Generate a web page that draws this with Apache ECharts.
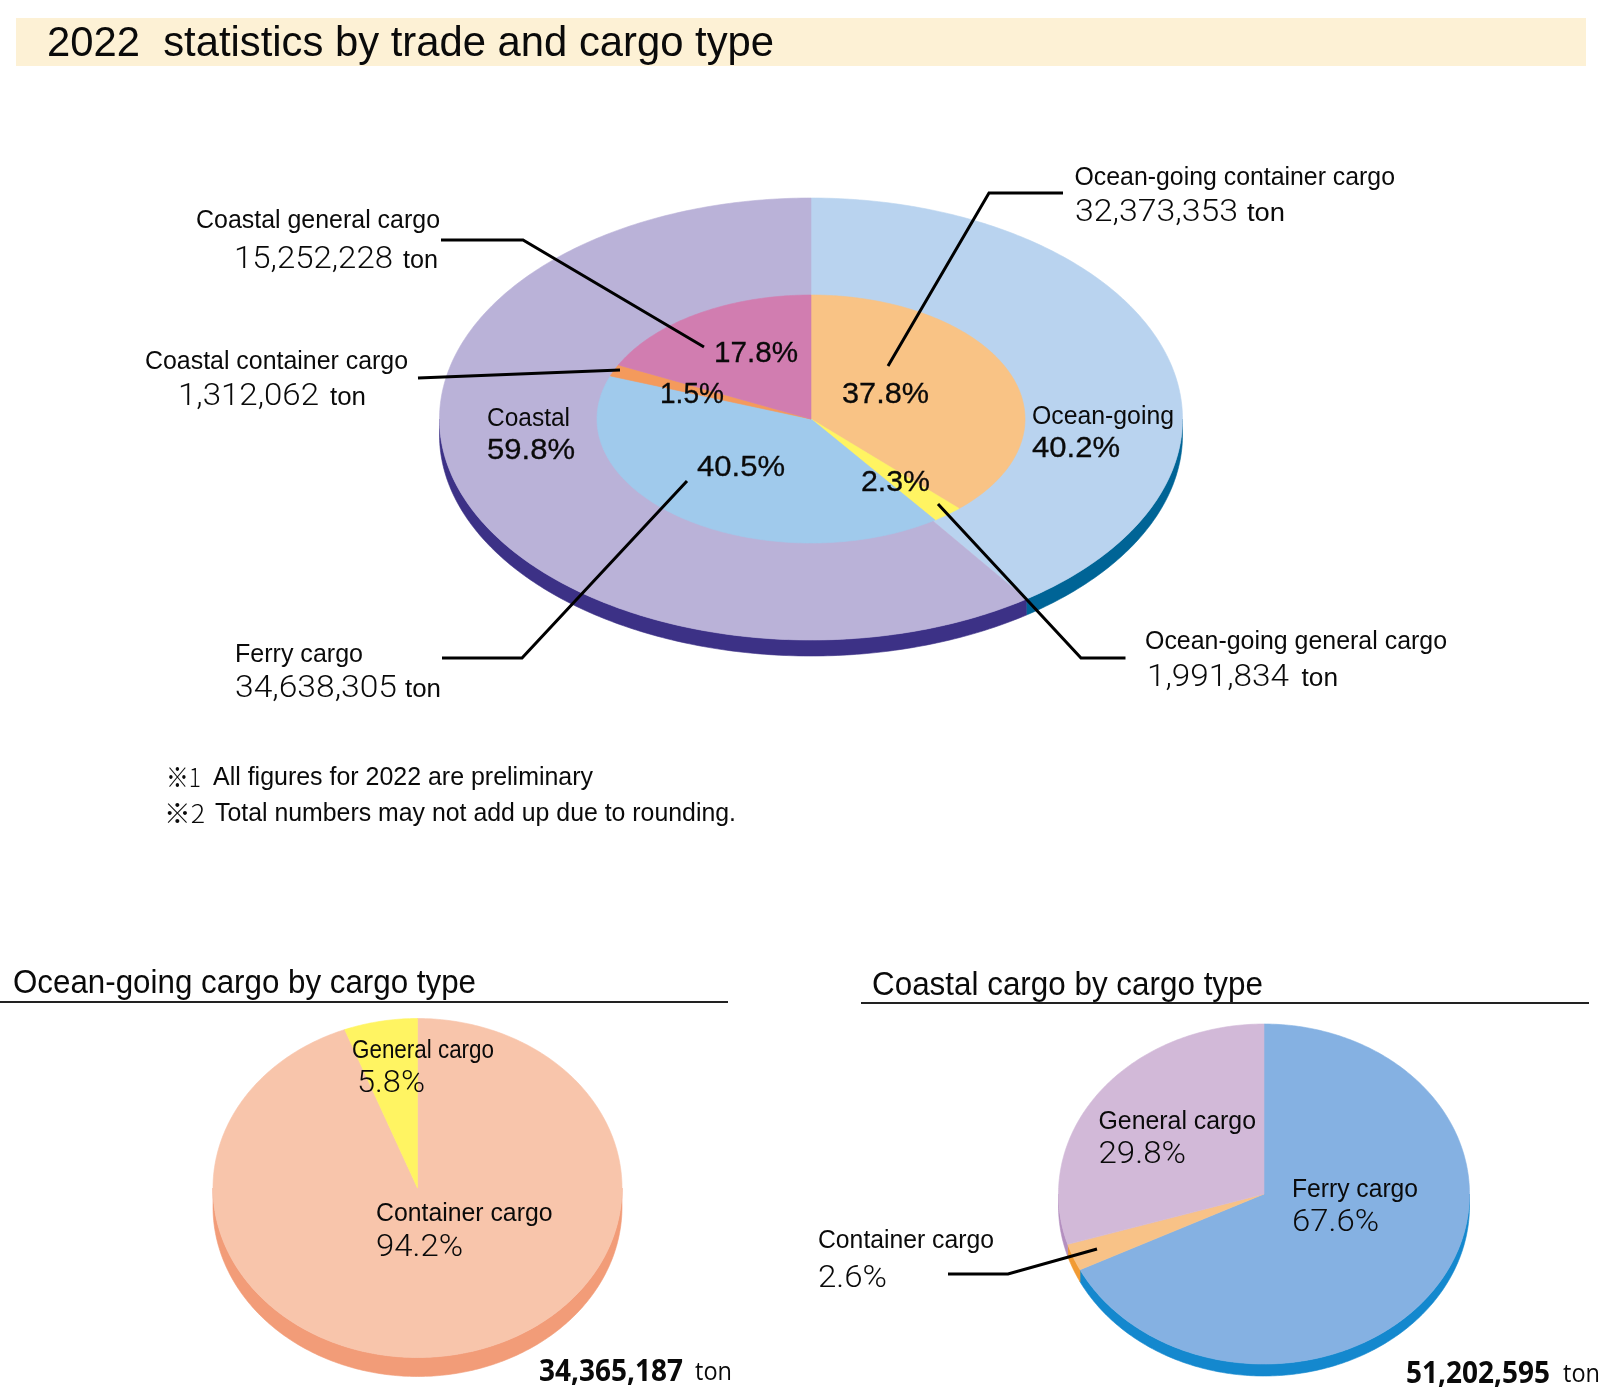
<!DOCTYPE html>
<html>
<head>
<meta charset="utf-8">
<style>html,body{margin:0;padding:0;background:#fff}#c{width:1600px;height:1391px}</style>
<script src="https://cdn.jsdelivr.net/npm/echarts@6/dist/echarts.min.js"></script>
</head>
<body>
<div id="c"></div>
<script>
// ---- data -----
const tradeNames = ['Ocean-going', 'Coastal'];
const tradeTons = [34365187, 51202595];
const cargoNames = ['Ocean-going container cargo', 'Ocean-going general cargo', 'Ferry cargo', 'Coastal container cargo', 'Coastal general cargo'];
const cargoTons = [32373353, 1991834, 34638305, 1312062, 15252228];
const oceanNames = ['Container cargo', 'General cargo'];
const oceanTons = [32373353, 1991834];
const coastalNames = ['Ferry cargo', 'Container cargo', 'General cargo'];
const coastalTons = [34638305, 1312062, 15252228];

// ---- colours -----
const tradeColors = ['#B9D3EF', '#BAB2D8'];
const tradeSides = ['#006496', '#3C3186'];
const cargoColors = ['#F9C385', '#FFF462', '#A0CAEC', '#F49A5C', '#D17DB0'];
const oceanColors = ['#F8C5AB', '#FFF462'];
const oceanSides = ['#F29C78', '#F29C78'];
const coastalColors = ['#85B1E2', '#F8C287', '#D2B9D8'];
const coastalSides = ['#1488CE', '#F19A33', '#B48FC0'];

// ---- layout -----
const mainOuter = {cx: 811, cy: 419, rx: 371.5, ry: 221, depth: 16};
const mainInner = {cx: 811, cy: 419, rx: 214, ry: 124, depth: 0};
const oceanPie = {cx: 417.5, cy: 1188, rx: 204.5, ry: 169.5, depth: 19};
const coastalPie = {cx: 1264, cy: 1194, rx: 205.5, ry: 170, depth: 12};

const TAU = Math.PI * 2;
function arc(g, a0, a1, dy) {
  const n = Math.max(2, Math.ceil((a1 - a0) / (Math.PI / 240)));
  const pts = [];
  for (let i = 0; i <= n; i++) {
    const t = a0 + (a1 - a0) * i / n;
    pts.push([g.cx + g.rx * Math.sin(t), g.cy - g.ry * Math.cos(t) + dy]);
  }
  return pts;
}
function spans(values) {
  const total = values.reduce((a, b) => a + b, 0);
  let run = 0;
  return values.map(v => {
    const a0 = echarts.number.linearMap(run, [0, total], [0, TAU]);
    run += v;
    return [a0, echarts.number.linearMap(run, [0, total], [0, TAU])];
  });
}
function topSeries(values, colors, g, z) {
  const sp = spans(values);
  return {
    type: 'custom', coordinateSystem: 'none', silent: true, z: z,
    data: values,
    renderItem: (params) => {
      const [a0, a1] = sp[params.dataIndex];
      const pts = [[g.cx, g.cy]].concat(arc(g, a0, a1, 0));
      const c = colors[params.dataIndex];
      return {type: 'polygon', shape: {points: pts}, style: {fill: c, stroke: c, lineWidth: 0.6}};
    }
  };
}
function sideSeries(values, colors, g, z) {
  const sp = spans(values);
  return {
    type: 'custom', coordinateSystem: 'none', silent: true, z: z,
    data: values,
    renderItem: (params) => {
      const [a0, a1] = sp[params.dataIndex];
      const s = Math.max(a0, Math.PI / 2), e = Math.min(a1, Math.PI * 1.5);
      if (e <= s) return null;
      const pts = arc(g, s, e, 0).concat(arc(g, s, e, g.depth).reverse());
      const c = colors[params.dataIndex];
      return {type: 'polygon', shape: {points: pts}, style: {fill: c, stroke: c, lineWidth: 0.6}};
    }
  };
}

// ---- text helpers -----
const tons = v => v.toLocaleString('en-US');
const pct = (v, vals) => (v / vals.reduce((a, b) => a + b, 0) * 100).toFixed(1) + '%';
const SANS = '"Liberation Sans"';
const LIGHT = 'Roboto';
const BOLD = '"Open Sans"';
const mctx = document.createElement('canvas').getContext('2d');
function txt(str, x, x2, y, size, family, weight, bold) {
  const font = (weight || 'normal') + ' ' + size + 'px ' + family;
  mctx.font = font;
  const sx = (x2 - x) / mctx.measureText(str).width;
  const style = {text: str, x: 0, y: 0, font: font, fill: '#0a0a0a', textAlign: 'left', textVerticalAlign: 'middle'};
  if (bold) { style.stroke = '#0a0a0a'; style.lineWidth = bold; }
  return {type: 'text', x: x, y: y + 1.5, scaleX: sx, z: 100, silent: true, style: style};
}
function leader(points, w) {
  return {type: 'polyline', z: 90, silent: true, shape: {points: points},
    style: {stroke: '#000', lineWidth: w || 3, fill: null, lineJoin: 'miter'}};
}
const PCT = 29, LAB = 26, NUM = 31, B = 0.3;

const graphics = [
  {type: 'rect', z: 1, silent: true, shape: {x: 16, y: 18, width: 1570, height: 48}, style: {fill: '#FDF1D5'}},
  txt('2022  statistics by trade and cargo type', 47, 774, 42.5, 42, SANS),

  txt(cargoNames[4], 196, 440, 219, LAB, SANS),
  txt(tons(cargoTons[4]), 234, 393, 259, NUM, LIGHT, 300),
  txt('ton', 403, 438, 259, LAB, SANS),
  txt(cargoNames[3], 145, 408, 360, LAB, SANS),
  txt(tons(cargoTons[3]), 178, 319, 396, NUM, LIGHT, 300),
  txt('ton', 330, 366, 396, LAB, SANS),
  txt(tradeNames[1], 487, 570, 417, LAB, SANS),
  txt(pct(tradeTons[1], tradeTons), 487, 575, 449, PCT, SANS, null, B),
  txt(pct(cargoTons[4], cargoTons), 714, 798, 352, PCT, SANS, null, B),
  txt(pct(cargoTons[3], cargoTons), 660, 724, 393, PCT, SANS, null, B),
  txt(pct(cargoTons[0], cargoTons), 842, 929, 393, PCT, SANS, null, B),
  txt(tradeNames[0], 1032, 1174, 415, LAB, SANS),
  txt(pct(tradeTons[0], tradeTons), 1032, 1120, 447, PCT, SANS, null, B),
  txt(pct(cargoTons[1], cargoTons), 861, 930, 481, PCT, SANS, null, B),
  txt(pct(cargoTons[2], cargoTons), 697, 785, 466, PCT, SANS, null, B),
  txt(cargoNames[0], 1074.5, 1395, 176, LAB, SANS),
  txt(tons(cargoTons[0]), 1075, 1238, 212, NUM, LIGHT, 300),
  txt('ton', 1247, 1285, 212, LAB, SANS),
  txt(cargoNames[2], 235, 363, 653, LAB, SANS),
  txt(tons(cargoTons[2]), 235, 397, 688, NUM, LIGHT, 300),
  txt('ton', 405, 441, 688, LAB, SANS),
  txt(cargoNames[1], 1145, 1447, 640, LAB, SANS),
  txt(tons(cargoTons[1]), 1147, 1289, 677, NUM, LIGHT, 300),
  txt('ton', 1301.5, 1338, 677, LAB, SANS),

  txt('※1', 166, 201, 776, 26, '"Noto Sans CJK JP"', 300),
  txt('All figures for 2022 are preliminary', 213, 593, 776, 26, SANS),
  txt('※2', 164, 205, 812, 26, '"Noto Sans CJK JP"', 300),
  txt('Total numbers may not add up due to rounding.', 215, 736, 812, 26, SANS),

  leader([[441, 240], [523, 240], [704, 347]]),
  leader([[418, 378], [620, 370]]),
  leader([[1063, 193], [989, 193], [888, 366]]),
  leader([[442, 658], [522, 658], [687, 481]]),
  leader([[1125.5, 658], [1081, 658], [938, 504]]),

  txt('Ocean-going cargo by cargo type', 13, 476, 982.5, 33, SANS),
  {type: 'line', z: 90, silent: true, shape: {x1: 0, y1: 1002, x2: 728, y2: 1002}, style: {stroke: '#222', lineWidth: 2}},
  txt(oceanNames[1], 352, 494, 1049, LAB, SANS),
  txt(pct(oceanTons[1], oceanTons), 357, 425, 1083, NUM, LIGHT, 300),
  txt(oceanNames[0], 376, 552.5, 1212, LAB, SANS),
  txt(pct(oceanTons[0], oceanTons), 376, 463, 1247, NUM, LIGHT, 300),
  txt(tons(tradeTons[0]), 539, 683, 1371, 30, BOLD, 'bold'),
  txt('ton', 695, 732, 1371, LAB, BOLD),

  txt('Coastal cargo by cargo type', 872, 1263, 984.5, 33, SANS),
  {type: 'line', z: 90, silent: true, shape: {x1: 861, y1: 1003, x2: 1589, y2: 1003}, style: {stroke: '#222', lineWidth: 2}},
  txt(coastalNames[2], 1098.5, 1256, 1120, LAB, SANS),
  txt(pct(coastalTons[2], coastalTons), 1098.5, 1186, 1154, NUM, LIGHT, 300),
  txt(coastalNames[0], 1292, 1418, 1188, LAB, SANS),
  txt(pct(coastalTons[0], coastalTons), 1292, 1379, 1222, NUM, LIGHT, 300),
  txt(coastalNames[1], 818, 994, 1239, LAB, SANS),
  txt(pct(coastalTons[1], coastalTons), 818, 887, 1278, NUM, LIGHT, 300),
  txt(tons(tradeTons[1]), 1406, 1550, 1373, 30, BOLD, 'bold'),
  txt('ton', 1563, 1600, 1373, LAB, BOLD),
  leader([[948, 1274], [1008, 1274], [1097, 1249]])
];

const chart = echarts.init(document.getElementById('c'), null, {renderer: 'canvas'});
chart.setOption({
  animation: false,
  backgroundColor: '#fff',
  series: [
    sideSeries(tradeTons, tradeSides, mainOuter, 2),
    topSeries(tradeTons, tradeColors, mainOuter, 3),
    topSeries(cargoTons, cargoColors, mainInner, 4),
    sideSeries(oceanTons, oceanSides, oceanPie, 2),
    topSeries(oceanTons, oceanColors, oceanPie, 3),
    sideSeries(coastalTons, coastalSides, coastalPie, 2),
    topSeries(coastalTons, coastalColors, coastalPie, 3)
  ],
  graphic: {elements: graphics}
});
</script>
</body>
</html>
